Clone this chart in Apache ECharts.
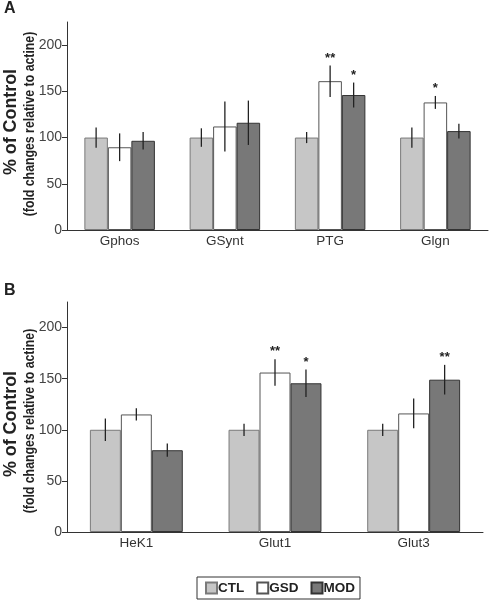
<!DOCTYPE html>
<html><head><meta charset="utf-8">
<script src="https://cdn.jsdelivr.net/npm/echarts@6/dist/echarts.min.js"></script>
<style>html,body{margin:0;padding:0;background:#fff}#c{width:490px;height:600px}</style>
</head><body><div id="c"></div>
<script>
// Panel A
const catsA = ['Gphos', 'GSynt', 'PTG', 'Glgn'];
const ctlA = [100, 100, 100, 100];
const ctlErrA = [11, 10, 6, 11];
const gsdA = [89.5, 112, 161, 138];
const gsdErrA = [15, 27, 17, 7];
const modA = [96.5, 116, 146, 107];
const modErrA = [9.5, 24, 13.5, 8];
const sigCtlA = ['', '', '', ''];
const sigGsdA = ['', '', '**', '*'];
const sigModA = ['', '', '*', ''];
// Panel B
const catsB = ['HeK1', 'Glut1', 'Glut3'];
const ctlB = [100, 100, 100];
const ctlErrB = [11, 6, 6];
const gsdB = [115, 156, 116];
const gsdErrB = [6, 13, 14.5];
const modB = [80, 145.5, 149];
const modErrB = [6.5, 13.5, 14.5];
const sigCtlB = ['', '', ''];
const sigGsdB = ['', '**', ''];
const sigModB = ['', '*', '**'];
const yTicks = [0, 50, 100, 150, 200];
const seriesNames = ['CTL', 'GSD', 'MOD'];

const FONT = '"Liberation Sans", Arial, sans-serif';
const styles = [
  {color: '#c6c6c6', borderColor: '#7a7a7a', borderWidth: 1},
  {color: '#ffffff', borderColor: '#555555', borderWidth: 1},
  {color: '#787878', borderColor: '#333333', borderWidth: 1}
];
const GAP = 0.33;

function errSeries(axisIdx, vals, errs, sigs, k) {
  return {
    type: 'custom', xAxisIndex: axisIdx, yAxisIndex: axisIdx, z: 10, clip: false,
    silent: true,
    data: vals.map((v, i) => [i, v, errs[i]]),
    renderItem: function (params, api) {
      const i = api.value(0), v = api.value(1), e = api.value(2);
      const c = api.coord([i, v]);
      const band = api.size([1, 0])[0];
      const bw = band * (1 - GAP) / 3;
      const x = c[0] + (k - 1) * bw;
      const t = api.coord([i, v + e])[1];
      const b = api.coord([i, v - e])[1];
      const children = [{
        type: 'line', shape: {x1: x, y1: t, x2: x, y2: b},
        style: {stroke: '#222', lineWidth: 1.3}
      }];
      const s = sigs[params.dataIndex];
      if (s) {
        children.push({
          type: 'text',
          style: {x: x, y: t - 1, text: s, align: 'center', verticalAlign: 'bottom',
            font: 'bold 13px ' + FONT, fill: '#222'}
        });
      }
      return {type: 'group', children: children};
    }
  };
}

function bars(axisIdx, arrs) {
  return arrs.map((d, k) => ({
    type: 'bar', name: seriesNames[k], xAxisIndex: axisIdx, yAxisIndex: axisIdx,
    data: d, barGap: '0%', barCategoryGap: (GAP * 100) + '%',
    itemStyle: styles[k], silent: true
  }));
}

function xAx(idx, cats) {
  return {
    type: 'category', gridIndex: idx, data: cats,
    axisLine: {lineStyle: {color: '#333', width: 1}},
    axisTick: {length: 5, lineStyle: {color: '#333'}},
    axisLabel: {color: '#333', fontSize: 13.5, fontFamily: FONT, margin: 4}
  };
}
function yAx(idx) {
  return {
    type: 'value', gridIndex: idx, min: 0, max: 225, interval: 50,
    axisLine: {show: true, lineStyle: {color: '#333', width: 1}},
    axisTick: {show: true, length: 5, customValues: yTicks, lineStyle: {color: '#333'}},
    axisLabel: {color: '#444', fontSize: 14, fontFamily: FONT, margin: 5, customValues: yTicks},
    splitLine: {show: false}
  };
}

function yTitle(cy1, cy2) {
  return [
    {type: 'text', x: 11, y: cy1, rotation: Math.PI / 2, scaleX: 0.94, style: {text: '% of Control', font: 'bold 19px ' + FONT, fill: '#222', align: 'center', verticalAlign: 'middle'}},
    {type: 'text', x: 30, y: cy2, rotation: Math.PI / 2, scaleX: 0.82, style: {text: '(fold changes relative to actine)', font: 'bold 15px ' + FONT, fill: '#222', align: 'center', verticalAlign: 'middle'}}
  ];
}

const chart = echarts.init(document.getElementById('c'), null, {renderer: 'canvas'});
chart.setOption({
  animation: false,
  backgroundColor: '#fff',
  grid: [
    {left: 67, top: 22, width: 421, height: 208},
    {left: 67, top: 302, width: 416, height: 230}
  ],
  xAxis: [xAx(0, catsA), xAx(1, catsB)],
  yAxis: [yAx(0), yAx(1)],
  legend: {
    data: seriesNames, left: 197, top: 577, orient: 'horizontal',
    borderColor: '#333', borderWidth: 1, padding: [4, 5, 4, 8],
    itemWidth: 11, itemHeight: 11, itemGap: 12,
    textStyle: {fontFamily: FONT, fontSize: 13.5, fontWeight: 'bold', color: '#222', padding: [0, 0, 0, -4]},
    icon: 'rect', selectedMode: false
  },
  graphic: [
    {type: 'text', x: 4, y: 1, style: {text: 'A', font: 'bold 16px ' + FONT, fill: '#222'}},
    {type: 'text', x: 4, y: 283, style: {text: 'B', font: 'bold 16px ' + FONT, fill: '#222'}}
  ].concat(yTitle(122, 124), yTitle(424, 421)),
  series: [].concat(
    bars(0, [ctlA, gsdA, modA]),
    bars(1, [ctlB, gsdB, modB]),
    [errSeries(0, ctlA, ctlErrA, sigCtlA, 0), errSeries(0, gsdA, gsdErrA, sigGsdA, 1), errSeries(0, modA, modErrA, sigModA, 2),
     errSeries(1, ctlB, ctlErrB, sigCtlB, 0), errSeries(1, gsdB, gsdErrB, sigGsdB, 1), errSeries(1, modB, modErrB, sigModB, 2)]
  )
});
</script></body></html>
